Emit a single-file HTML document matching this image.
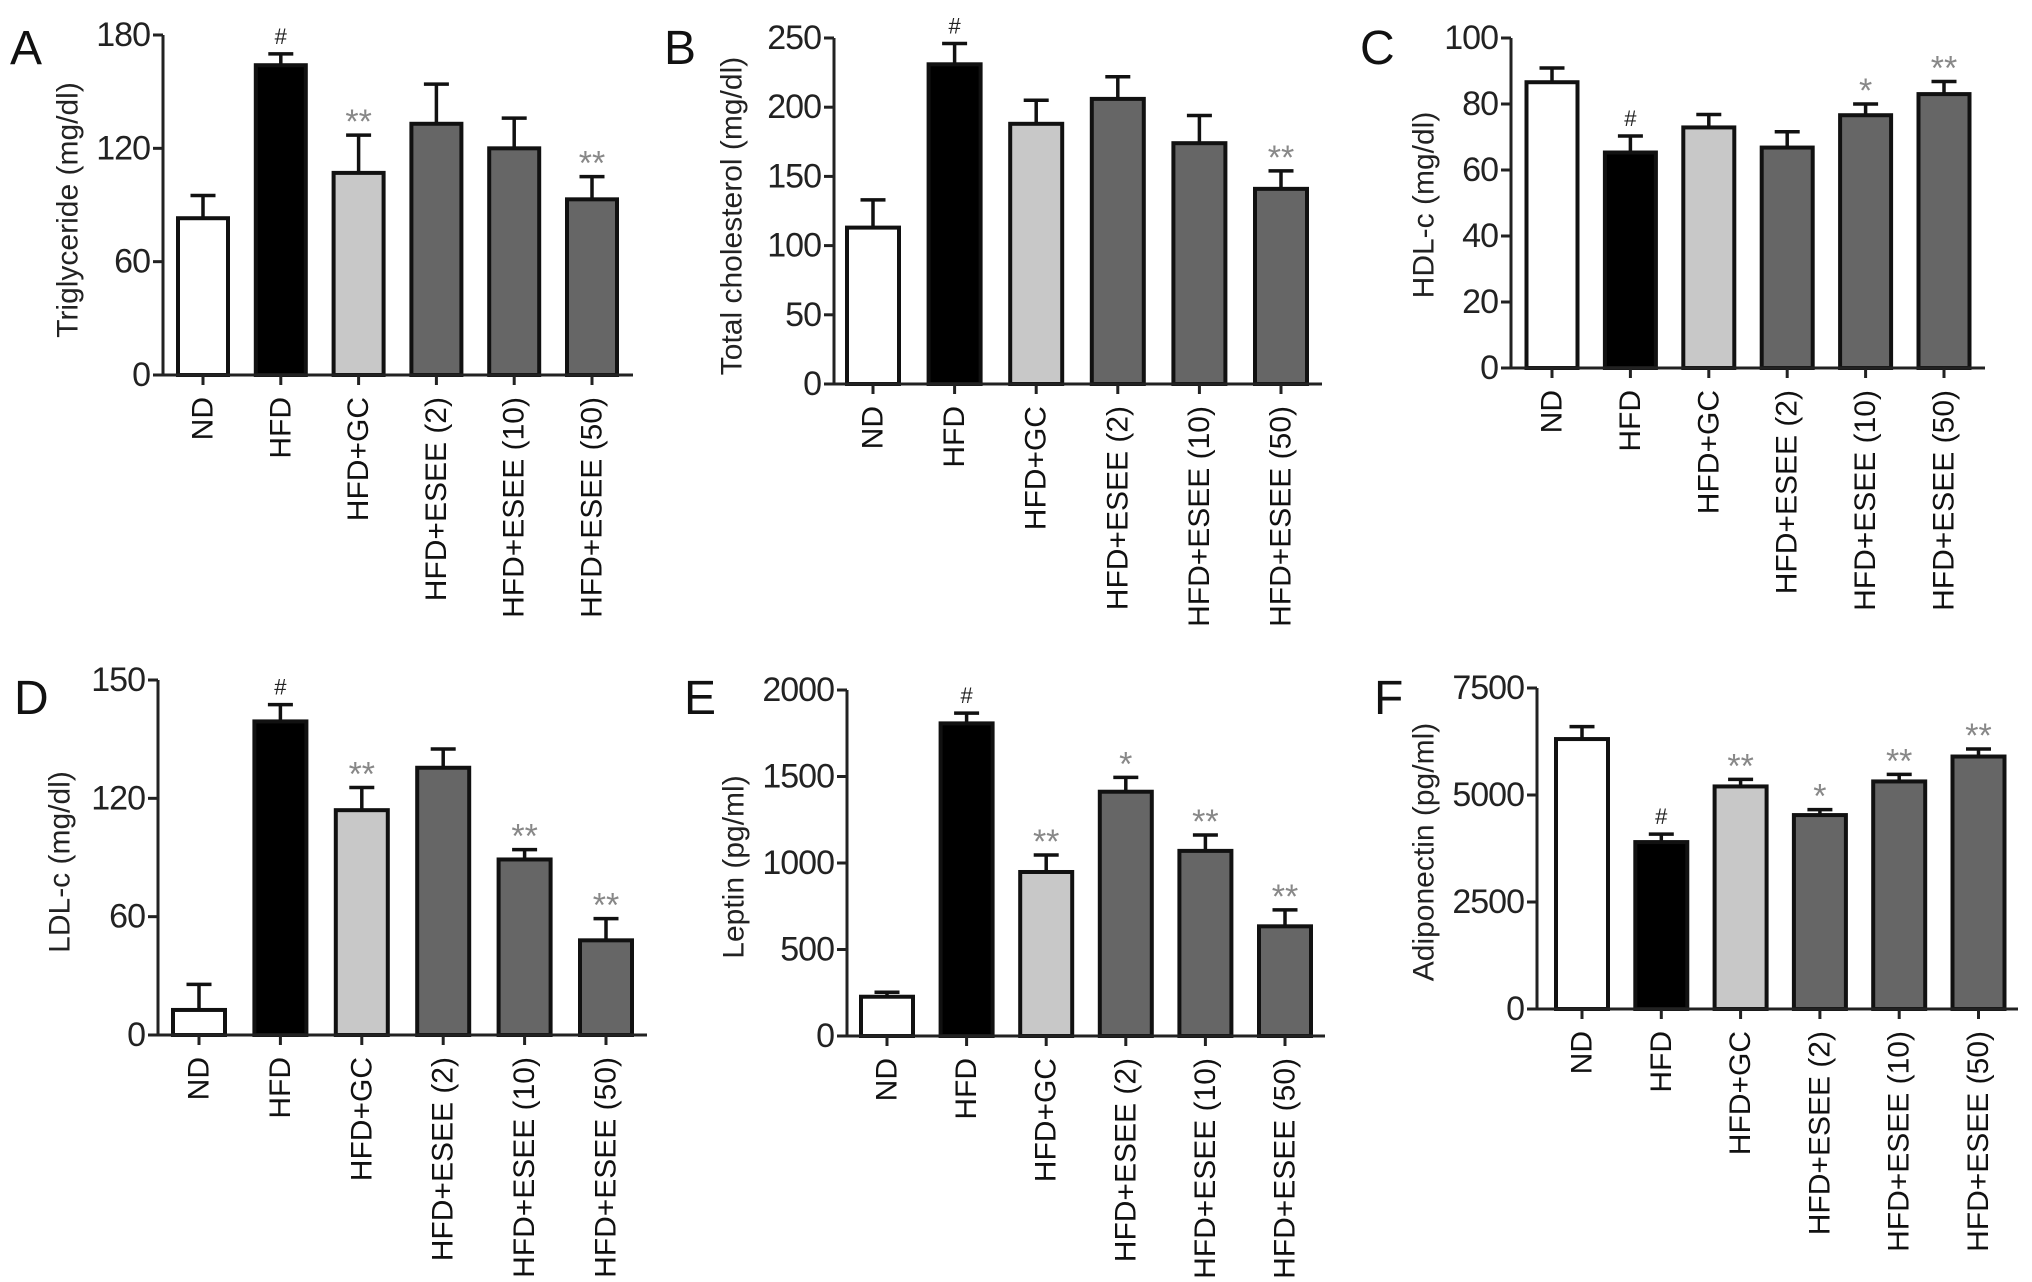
<!DOCTYPE html>
<html><head><meta charset="utf-8"><style>
html,body{margin:0;padding:0;background:#fff;}
svg{display:block;}
text{font-family:"Liberation Sans",Arial,sans-serif;}
</style></head><body>
<svg id="fig" width="2032" height="1282" viewBox="0 0 2032 1282" xmlns="http://www.w3.org/2000/svg"></svg>
<script>
const categories = ["ND","HFD","HFD+GC","HFD+ESEE (2)","HFD+ESEE (10)","HFD+ESEE (50)"];
const fills = ["#ffffff","#000000","#c8c8c8","#666666","#666666","#666666"];

const triglycerideValues = [83, 164, 107, 133, 120, 93];
const triglycerideErrors = [12, 6, 20, 21, 16, 12];
const triglycerideTicks = [0, 60, 120, 180];
const triglycerideTickLabels = ["0","60","120","180"];
const triglycerideSig = ["", "#", "**", "", "", "**"];

const cholesterolValues = [113, 231, 188, 206, 174, 141];
const cholesterolErrors = [20, 15, 17, 16, 20, 13];
const cholesterolTicks = [0, 50, 100, 150, 200, 250];
const cholesterolTickLabels = ["0","50","100","150","200","250"];
const cholesterolSig = ["", "#", "", "", "", "**"];

const hdlValues = [86.6, 65.3, 72.9, 66.8, 76.6, 83];
const hdlErrors = [4.3, 5, 3.9, 4.8, 3.4, 3.8];
const hdlTicks = [0, 20, 40, 60, 80, 100];
const hdlTickLabels = ["0","20","40","60","80","100"];
const hdlSig = ["", "#", "", "", "*", "**"];

const ldlValues = [12.7, 159, 114, 135.5, 89, 48];
const ldlErrors = [13, 8.5, 11.5, 9.5, 5, 11];
const ldlTicks = [0, 60, 120, 180];
const ldlTickLabels = ["0","60","120","150"];
const ldlSig = ["", "#", "**", "", "**", "**"];

const leptinValues = [227, 1807, 948, 1412, 1070, 634];
const leptinErrors = [26, 59, 98, 83, 92, 95];
const leptinTicks = [0, 500, 1000, 1500, 2000];
const leptinTickLabels = ["0","500","1000","1500","2000"];
const leptinSig = ["", "#", "**", "*", "**", "**"];

const adiponectinValues = [6307, 3900, 5200, 4531, 5317, 5899];
const adiponectinErrors = [290, 185, 165, 126, 165, 175];
const adiponectinTicks = [0, 2500, 5000, 7500];
const adiponectinTickLabels = ["0","2500","5000","7500"];
const adiponectinSig = ["", "#", "**", "*", "**", "**"];

const NS = "http://www.w3.org/2000/svg";
const svg = document.getElementById("fig");
function mk(tag, attrs, parent){ const e=document.createElementNS(NS,tag); for(const k in attrs) e.setAttribute(k,attrs[k]); (parent||svg).appendChild(e); return e; }

const panels = [
 {id:"a",letter:"A",lx:10,ly:64,title:"Triglyceride (mg/dl)",tx:68,ty:210,ax:163,top:35,bottom:375,xEnd:633,c0:203,step:77.8,bw:50,vals:triglycerideValues,errs:triglycerideErrors,ticks:triglycerideTicks,tl:triglycerideTickLabels,sig:triglycerideSig},
 {id:"b",letter:"B",lx:664,ly:64,title:"Total cholesterol (mg/dl)",tx:732,ty:216,ax:834,top:38,bottom:384,xEnd:1322,c0:873,step:81.6,bw:52,vals:cholesterolValues,errs:cholesterolErrors,ticks:cholesterolTicks,tl:cholesterolTickLabels,sig:cholesterolSig},
 {id:"c",letter:"C",lx:1360,ly:64,title:"HDL-c (mg/dl)",tx:1424,ty:205,ax:1511,top:38,bottom:368,xEnd:1985,c0:1552,step:78.4,bw:51,vals:hdlValues,errs:hdlErrors,ticks:hdlTicks,tl:hdlTickLabels,sig:hdlSig},
 {id:"d",letter:"D",lx:14,ly:714,title:"LDL-c (mg/dl)",tx:60,ty:862,ax:158,top:680,bottom:1035,xEnd:647,c0:199,step:81.4,bw:52,vals:ldlValues,errs:ldlErrors,ticks:ldlTicks,tl:ldlTickLabels,sig:ldlSig},
 {id:"e",letter:"E",lx:684,ly:714,title:"Leptin (pg/ml)",tx:734,ty:867,ax:847,top:690,bottom:1036,xEnd:1325,c0:887,step:79.6,bw:52,vals:leptinValues,errs:leptinErrors,ticks:leptinTicks,tl:leptinTickLabels,sig:leptinSig},
 {id:"f",letter:"F",lx:1374,ly:714,title:"Adiponectin (pg/ml)",tx:1424,ty:852,ax:1537,top:688,bottom:1009,xEnd:2018,c0:1582,step:79.3,bw:52,vals:adiponectinValues,errs:adiponectinErrors,ticks:adiponectinTicks,tl:adiponectinTickLabels,sig:adiponectinSig}
];

panels.forEach(p=>{
  const g = mk("g",{});
  
  
  const maxV = p.ticks[p.ticks.length-1];
  const y = v => p.bottom - (v/maxV)*(p.bottom-p.top);
  const x = i => p.c0 + i*p.step;

  const L = mk("text",{x:p.lx,y:p.ly,"font-size":48,fill:"#111"},g);
  L.textContent = p.letter;
  
  

  const T = mk("text",{x:p.tx,y:p.ty,"font-size":30,fill:"#222","text-anchor":"middle","dominant-baseline":"central",transform:`rotate(-90 ${p.tx} ${p.ty})`},g);
  T.textContent = p.title;
  
  

  p.vals.forEach((v,i)=>{
    const cx = x(i), yt = y(v), ye = y(v+p.errs[i]);
    const eb = mk("line",{x1:cx,y1:yt,x2:cx,y2:ye,stroke:"#111","stroke-width":3.5},g);
    
    
    const cap = mk("line",{x1:cx-12.5,y1:ye,x2:cx+12.5,y2:ye,stroke:"#111","stroke-width":3.5},g);
    
    
    const r = mk("rect",{x:cx-p.bw/2,y:yt,width:p.bw,height:p.bottom-yt,fill:fills[i],stroke:"#111","stroke-width":4},g);
    
    
    if(p.sig[i]){
      const isHash = p.sig[i]==="#";
      const s = mk("text",{x:cx,y:ye-(isHash?10:2),"font-size":isHash?22:34,fill:isHash?"#222":"#888","text-anchor":"middle"},g);
      s.textContent = p.sig[i];
      
      
    }
    const tk = mk("line",{x1:cx,y1:p.bottom,x2:cx,y2:p.bottom+10,stroke:"#222","stroke-width":3},g);
    
    
    const ly = p.bottom+22;
    const cl = mk("text",{x:cx,y:ly,"font-size":30,fill:"#111","text-anchor":"end","dominant-baseline":"central",transform:`rotate(-90 ${cx} ${ly})`},g);
    cl.textContent = categories[i];
    
    
  });

  const ya = mk("line",{x1:p.ax,y1:p.top,x2:p.ax,y2:p.bottom,stroke:"#222","stroke-width":3},g);
  
  
  const xa = mk("line",{x1:p.ax-10,y1:p.bottom,x2:p.xEnd,y2:p.bottom,stroke:"#222","stroke-width":3},g);
  
  
  p.ticks.forEach((t,k)=>{
    const yy = y(t);
    const tk = mk("line",{x1:p.ax-10,y1:yy,x2:p.ax,y2:yy,stroke:"#222","stroke-width":3},g);
    
    
    const tl = mk("text",{x:p.ax-13,y:yy,"font-size":34,fill:"#222","text-anchor":"end","dominant-baseline":"central","letter-spacing":"-1"},g);
    tl.textContent = p.tl[k];
    
    
  });
});
</script>
</body></html>
